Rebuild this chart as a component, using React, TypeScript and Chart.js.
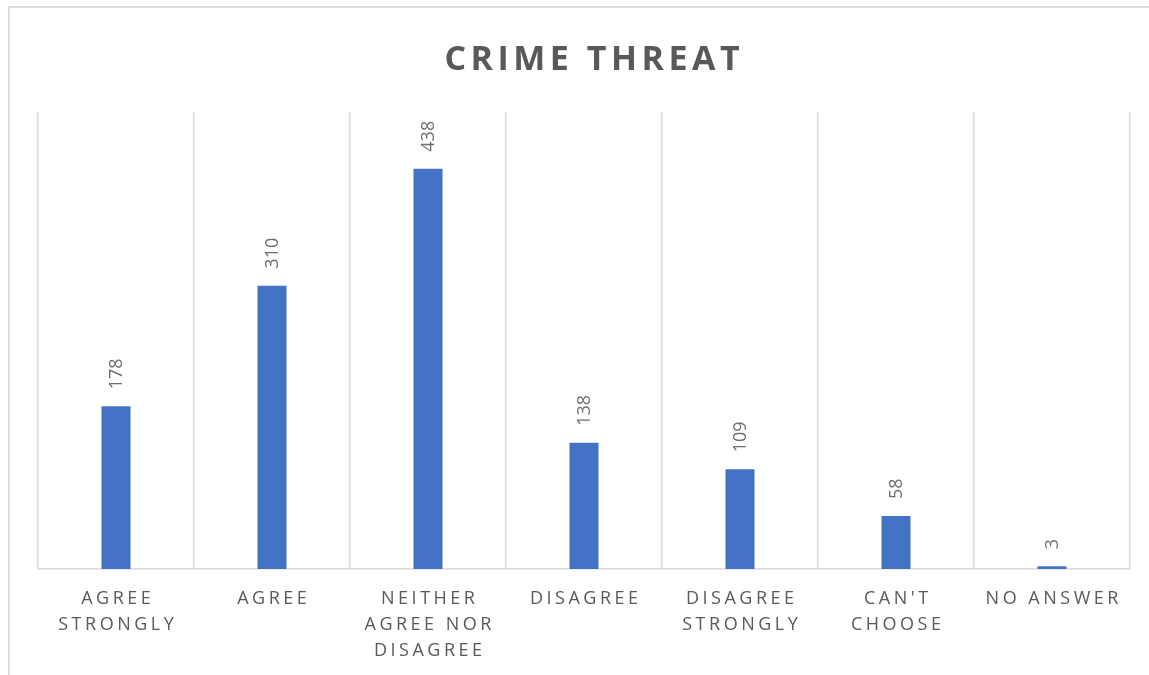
import { useEffect, useRef } from "react";
import { Chart, registerables } from "chart.js";

Chart.register(...registerables);

const chartTitle = "CRIME THREAT";
const categories: string[][] = [
  ["AGREE", "STRONGLY"],
  ["AGREE"],
  ["NEITHER", "AGREE NOR", "DISAGREE"],
  ["DISAGREE"],
  ["DISAGREE", "STRONGLY"],
  ["CAN'T", "CHOOSE"],
  ["NO ANSWER"],
];
const counts = [178, 310, 438, 138, 109, 58, 3];
const yMin = 0;
const yMax = 500;

const FONT = "'Open Sans', 'DejaVu Sans', sans-serif";
const TEXT_COLOR = "#595959";
const GRID_COLOR = "#d9d9d9";
const BAR_COLOR = "#4472C4";

const drawPlugin = {
  id: "customDraw",
  beforeDraw(chart: any) {
    const ctx = chart.ctx as CanvasRenderingContext2D;
    ctx.save();
    ctx.fillStyle = "#ffffff";
    ctx.fillRect(0, 0, chart.width, chart.height);
    ctx.fillStyle = "#dcdcdc";
    ctx.fillRect(8, 6, chart.width - 8, 2);
    ctx.fillRect(8, 6, 2, chart.height - 6);
    ctx.restore();
  },
  afterDraw(chart: any) {
    const ctx = chart.ctx as CanvasRenderingContext2D;
    const xScale = chart.scales.x;
    const meta = chart.getDatasetMeta(0);

    // Title
    ctx.save();
    (ctx as any).letterSpacing = "4.5px";
    ctx.font = `bold 34px ${FONT}`;
    ctx.fillStyle = TEXT_COLOR;
    ctx.textAlign = "center";
    ctx.textBaseline = "alphabetic";
    ctx.fillText(chartTitle, 592 + 2.25, 70);
    ctx.restore();

    // X labels
    ctx.save();
    (ctx as any).letterSpacing = "3.5px";
    ctx.font = `18px ${FONT}`;
    ctx.fillStyle = TEXT_COLOR;
    ctx.textAlign = "center";
    ctx.textBaseline = "alphabetic";
    const base = chart.chartArea.bottom + 35;
    categories.forEach((lines, i) => {
      const x = xScale.getPixelForValue(i);
      lines.forEach((line, j) => {
        ctx.fillText(line, x + 1.75, base + j * 26);
      });
    });
    ctx.restore();

    // Data labels (rotated)
    ctx.save();
    ctx.font = `18px ${FONT}`;
    ctx.fillStyle = "#6e6e6e";
    ctx.textAlign = "left";
    ctx.textBaseline = "middle";
    meta.data.forEach((bar: any, i: number) => {
      ctx.save();
      ctx.translate(bar.x, bar.y - 17);
      ctx.rotate(-Math.PI / 2);
      ctx.fillText(String(counts[i]), 0, 1);
      ctx.restore();
    });
    ctx.restore();
  },
};

export default function App() {
  const ref = useRef<HTMLCanvasElement>(null);
  useEffect(() => {
    document.body.style.margin = "0";
    document.body.style.overflow = "hidden";
    const chart = new Chart(ref.current!, {
      type: "bar",
      data: {
        labels: categories.map((c) => c.join(" ")),
        datasets: [
          {
            data: counts,
            backgroundColor: BAR_COLOR,
            categoryPercentage: 1,
            barPercentage: 0.186,
          },
        ],
      },
      options: {
        animation: false,
        responsive: false,
        layout: { padding: { left: 38, right: 19, top: 112, bottom: 106 } },
        plugins: {
          legend: { display: false },
          title: { display: false },
          tooltip: { enabled: false },
        },
        scales: {
          x: {
            display: true,
            ticks: { display: false },
            grid: {
              offset: true,
              color: GRID_COLOR,
              lineWidth: 1.5,
              drawTicks: false,
            },
            border: { display: true, color: GRID_COLOR, width: 1.5 },
          },
          y: {
            display: false,
            min: yMin,
            max: yMax,
          },
        },
      },
      plugins: [drawPlugin],
    });
    return () => chart.destroy();
  }, []);
  return <canvas ref={ref} width={1149} height={675} style={{ display: "block" }} />;
}
